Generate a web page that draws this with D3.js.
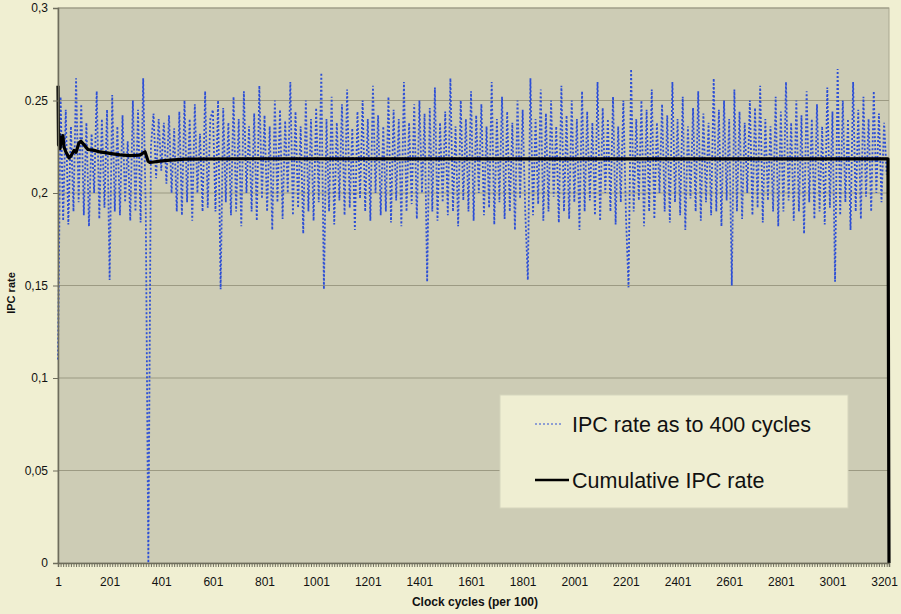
<!DOCTYPE html>
<html lang="en">
<head>
  <meta charset="UTF-8">
  <title>IPC rate</title>
  <script src="https://d3js.org/d3.v7.min.js"></script>
  <style>
    body { margin: 0; background: #f0efd2; }
    svg { display: block; font-family: "Liberation Sans", Arial, sans-serif; }
  </style>
</head>
<body>
  <div id="chart"></div>

  <script>
    // IPC rate measured over 400-cycle windows, one reading every 10 categories (1, 11, 21, ...)
    const ipcStep = 10;
    const ipcValues = [
      0.11, 0.252, 0.185, 0.245, 0.183, 0.236, 0.19, 0.262, 0.195, 0.248,
      0.188, 0.238, 0.182, 0.232, 0.2, 0.255, 0.186, 0.24, 0.192, 0.245,
      0.153, 0.253, 0.19, 0.236, 0.188, 0.242, 0.195, 0.228, 0.185, 0.25,
      0.19, 0.245, 0.184, 0.262, 0.19, 0.0, 0.225, 0.243, 0.208, 0.24,
      0.212, 0.238, 0.205, 0.242, 0.2, 0.235, 0.19, 0.244, 0.188, 0.25,
      0.195, 0.24, 0.185, 0.248, 0.2, 0.232, 0.19, 0.255, 0.192, 0.24,
      0.245, 0.19, 0.25, 0.148, 0.246, 0.195, 0.238, 0.188, 0.252, 0.19,
      0.24, 0.182, 0.255, 0.2, 0.236, 0.19, 0.243, 0.185, 0.258, 0.197,
      0.242, 0.19, 0.236, 0.18, 0.25, 0.195, 0.245, 0.186, 0.239, 0.2,
      0.26, 0.188, 0.244, 0.192, 0.236, 0.178, 0.25, 0.19, 0.24, 0.185,
      0.246, 0.195, 0.265, 0.148, 0.24, 0.19, 0.252, 0.183, 0.238, 0.196,
      0.248, 0.188, 0.256, 0.192, 0.235, 0.18, 0.244, 0.197, 0.25, 0.19,
      0.24, 0.185, 0.258, 0.2, 0.242, 0.188, 0.236, 0.19, 0.252, 0.184,
      0.245, 0.196, 0.24, 0.182, 0.26, 0.19, 0.238, 0.194, 0.248, 0.186,
      0.25, 0.2, 0.243, 0.152, 0.246, 0.19, 0.257, 0.185, 0.238, 0.195,
      0.244, 0.188, 0.262, 0.19, 0.236, 0.182, 0.25, 0.196, 0.24, 0.19,
      0.255, 0.185, 0.242, 0.2, 0.248, 0.188, 0.236, 0.192, 0.26, 0.183,
      0.24, 0.195, 0.252, 0.186, 0.244, 0.19, 0.238, 0.18, 0.25, 0.197,
      0.245, 0.19, 0.153, 0.262, 0.188, 0.24, 0.194, 0.256, 0.185, 0.243,
      0.19, 0.25, 0.198, 0.236, 0.184, 0.258, 0.19, 0.242, 0.186, 0.25,
      0.195, 0.24, 0.18, 0.255, 0.19, 0.244, 0.196, 0.238, 0.188, 0.26,
      0.185, 0.246, 0.2, 0.24, 0.19, 0.252, 0.183, 0.236, 0.195, 0.25,
      0.188, 0.149, 0.267, 0.19, 0.24, 0.196, 0.25, 0.182, 0.245, 0.19,
      0.256, 0.186, 0.238, 0.2, 0.248, 0.19, 0.242, 0.184, 0.26, 0.195,
      0.24, 0.188, 0.252, 0.18, 0.236, 0.197, 0.246, 0.19, 0.255, 0.185,
      0.243, 0.195, 0.238, 0.188, 0.262, 0.19, 0.245, 0.182, 0.25, 0.196,
      0.24, 0.15, 0.256, 0.19, 0.244, 0.186, 0.238, 0.2, 0.25, 0.188,
      0.246, 0.192, 0.258, 0.184, 0.24, 0.196, 0.236, 0.19, 0.252, 0.182,
      0.244, 0.19, 0.26, 0.196, 0.238, 0.185, 0.25, 0.19, 0.242, 0.178,
      0.255, 0.195, 0.24, 0.186, 0.248, 0.19, 0.236, 0.183, 0.257, 0.192,
      0.244, 0.152, 0.267, 0.188, 0.25, 0.195, 0.24, 0.18, 0.26, 0.19,
      0.245, 0.186, 0.252, 0.198, 0.24, 0.19, 0.255, 0.2, 0.243, 0.195,
      0.238, 0.21
    ];

    // cumulative IPC rate
    const cumCycles = [1, 3, 5, 9, 13, 17, 20, 24, 32, 44, 51, 63, 71, 82, 90, 102, 117, 137, 164,
      202, 241, 280, 318, 338, 350, 357, 396, 435, 493, 745, 1713, 3216, 3220];
    const cumValues = [0.258, 0.226, 0.232, 0.224, 0.23, 0.227, 0.231, 0.225, 0.222, 0.219, 0.22,
      0.223, 0.222, 0.227, 0.228, 0.226, 0.2235, 0.2232, 0.2222, 0.2214, 0.2206, 0.2202, 0.2205,
      0.2223, 0.2172, 0.2165, 0.2172, 0.2178, 0.2183, 0.2185, 0.2185, 0.2185, 0];

    const xTicks = [1, 201, 401, 601, 801, 1001, 1201, 1401, 1601, 1801, 2001, 2201, 2401, 2601, 2801, 3001, 3201];
    const yTicks = [0, 0.05, 0.1, 0.15, 0.2, 0.25, 0.3];
    const yTickLabels = ["0", "0,05", "0,1", "0,15", "0,2", "0.25", "0,3"];

    const width = 901, height = 614;
    const margin = {top: 8, right: 12, bottom: 51, left: 58};

    const x = d3.scaleLinear()
      .domain([1, 3220])
      .range([margin.left, width - margin.right]);

    const y = d3.scaleLinear()
      .domain([0, 0.3])
      .range([height - margin.bottom, margin.top]);

    const svg = d3.select("#chart").append("svg")
      .attr("width", width)
      .attr("height", height);

    svg.append("rect")
      .attr("width", width)
      .attr("height", height)
      .attr("fill", "#f0efd2");

    // plot area
    svg.append("rect")
      .attr("x", x(1))
      .attr("y", y(0.3))
      .attr("width", x(3220) - x(1))
      .attr("height", y(0) - y(0.3))
      .attr("fill", "#cdccb5")
      .attr("stroke", "#a9a891");

    // gridlines
    svg.append("g")
      .selectAll("line")
      .data(yTicks.filter(d => d > 0))
      .join("line")
        .attr("x1", x(1))
        .attr("x2", x(3220))
        .attr("y1", d => y(d))
        .attr("y2", d => y(d))
        .attr("stroke", "#9c9a83")
        .attr("stroke-width", 1.2);

    // IPC series
    const ipcLine = d3.line()
      .x((d, i) => x(1 + i * ipcStep))
      .y(d => y(d));

    svg.append("path")
      .datum(ipcValues)
      .attr("d", ipcLine)
      .attr("fill", "none")
      .attr("stroke", "#2d4fd6")
      .attr("stroke-width", 1.8)
      .attr("stroke-dasharray", "2,2");

    // cumulative series
    const cumLine = d3.line()
      .x((d, i) => x(cumCycles[i]))
      .y(d => y(d));

    svg.append("path")
      .datum(cumValues)
      .attr("d", cumLine)
      .attr("fill", "none")
      .attr("stroke", "#000")
      .attr("stroke-width", 3.2)
      .attr("stroke-linejoin", "round");

    // x axis: dense minor ticks, then labelled major ticks
    svg.append("g")
      .attr("transform", `translate(0,${y(0)})`)
      .call(d3.axisBottom(x).tickValues(d3.range(1, 3221, 10)).tickSize(4).tickFormat(""))
      .call(g => g.select(".domain").attr("stroke", "#6e6d5c").attr("stroke-width", 1.5))
      .call(g => g.selectAll(".tick line").attr("stroke", "#6e6d5c"));

    svg.append("g")
      .attr("transform", `translate(0,${y(0)})`)
      .call(d3.axisBottom(x).tickValues(xTicks).tickSize(0).tickPadding(14).tickFormat(d3.format("d")))
      .call(g => g.select(".domain").remove())
      .call(g => g.selectAll("text").attr("font-size", 12).attr("fill", "#111").attr("font-family", "Liberation Sans, Arial, sans-serif"));

    // y axis
    svg.append("g")
      .attr("transform", `translate(${x(1)},0)`)
      .call(d3.axisLeft(y).tickValues(yTicks).tickSize(5).tickPadding(5).tickFormat((d, i) => yTickLabels[i]))
      .call(g => g.select(".domain").attr("stroke", "#6e6d5c").attr("stroke-width", 1.5))
      .call(g => g.selectAll(".tick line").attr("stroke", "#6e6d5c"))
      .call(g => g.selectAll("text").attr("font-size", 12).attr("fill", "#111").attr("font-family", "Liberation Sans, Arial, sans-serif"));

    // axis titles
    svg.append("text")
      .attr("x", 475)
      .attr("y", 606)
      .attr("text-anchor", "middle")
      .attr("font-size", 12)
      .attr("font-weight", "bold")
      .attr("fill", "#111")
      .text("Clock cycles (per 100)");

    svg.append("text")
      .attr("transform", "translate(15,293) rotate(-90)")
      .attr("text-anchor", "middle")
      .attr("font-size", 11)
      .attr("font-weight", "bold")
      .attr("fill", "#111")
      .text("IPC rate");

    // legend
    const legend = svg.append("g").attr("transform", "translate(500,395)");
    legend.append("rect")
      .attr("width", 348)
      .attr("height", 113)
      .attr("fill", "#efeed2")
      .attr("stroke", "#d6d5bd");

    legend.append("line")
      .attr("x1", 35).attr("x2", 63)
      .attr("y1", 29).attr("y2", 29)
      .attr("stroke", "#2d4fd6")
      .attr("stroke-width", 1)
      .attr("stroke-dasharray", "2,2");
    legend.append("text")
      .attr("x", 72).attr("y", 37)
      .attr("font-size", 21.5)
      .attr("fill", "#111")
      .text("IPC rate as to 400 cycles");

    legend.append("line")
      .attr("x1", 35).attr("x2", 69)
      .attr("y1", 85).attr("y2", 85)
      .attr("stroke", "#000")
      .attr("stroke-width", 2.5);
    legend.append("text")
      .attr("x", 72).attr("y", 93)
      .attr("font-size", 21.5)
      .attr("fill", "#111")
      .text("Cumulative IPC rate");
  </script>
</body>
</html>
